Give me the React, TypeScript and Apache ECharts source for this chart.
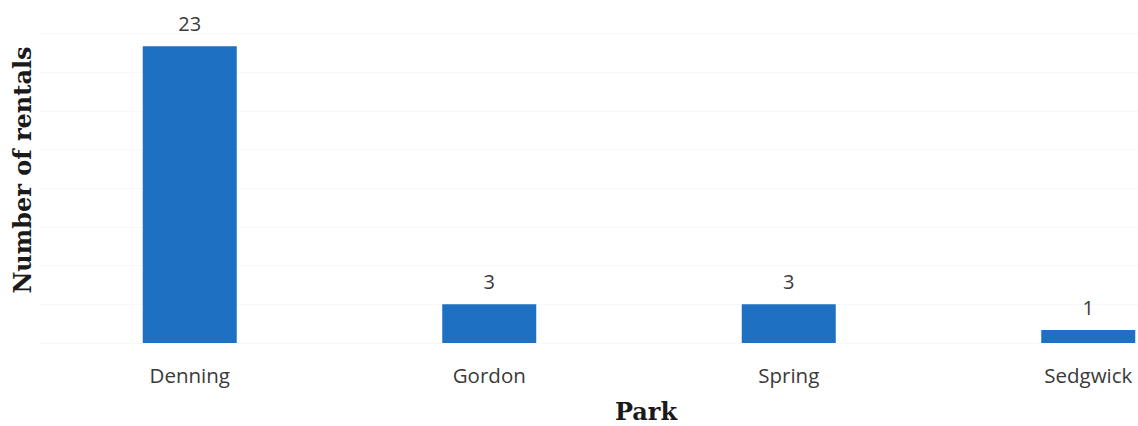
import React, { useEffect, useRef } from "react";
import * as echarts from "echarts";

const parks = ["Denning", "Gordon", "Spring", "Sedgwick"];
const rentals = [23, 3, 3, 1];
const yTitle = "Number of rentals";
const xTitle = "Park";

export default function App() {
  const ref = useRef<HTMLDivElement>(null);
  useEffect(() => {
    const chart = echarts.init(ref.current!, null, { renderer: "svg" });
    chart.setOption({
      animation: false,
      backgroundColor: "#ffffff",
      grid: { left: 40, right: 0, top: 33.4, bottom: 83, containLabel: false },
      xAxis: {
        type: "category",
        data: parks,
        axisLine: { show: false },
        axisTick: { show: false },
        axisLabel: {
          color: "#3a3a3a",
          fontFamily: "Open Sans",
          fontSize: 20.5,
          margin: 21,
        },
      },
      yAxis: {
        type: "value",
        min: 0,
        max: 24,
        interval: 3,
        axisLabel: { show: false },
        axisLine: { show: false },
        axisTick: { show: false },
        splitLine: { lineStyle: { color: "#f8f8f8", width: 1 } },
      },
      graphic: [
        {
          id: "yt",
          type: "text",
          x: 22,
          y: 170,
          rotation: Math.PI / 2,
          style: {
            text: yTitle,
            fill: "#1a1a1a",
            font: "bold 24px 'DejaVu Serif'",
            align: "center",
            verticalAlign: "middle",
          },
        },
        {
          id: "xt",
          type: "text",
          x: 646,
          y: 411,
          style: {
            text: xTitle,
            fill: "#1a1a1a",
            font: "bold 24px 'DejaVu Serif'",
            align: "center",
            verticalAlign: "middle",
          },
        },
      ],
      series: [
        {
          type: "bar",
          data: rentals,
          barWidth: 94,
          itemStyle: { color: "#1d70c2" },
          label: {
            show: true,
            position: "top",
            distance: 13,
            color: "#3a3a3a",
            fontFamily: "Open Sans",
            fontSize: 20,
          },
        },
      ],
    });
    return () => chart.dispose();
  }, []);
  return (
    <div
      style={{ position: "fixed", left: 0, top: 0, width: 1138, height: 426, overflow: "hidden", background: "#fff" }}
    >
      <div ref={ref} style={{ width: 1238, height: 426 }} />
    </div>
  );
}
